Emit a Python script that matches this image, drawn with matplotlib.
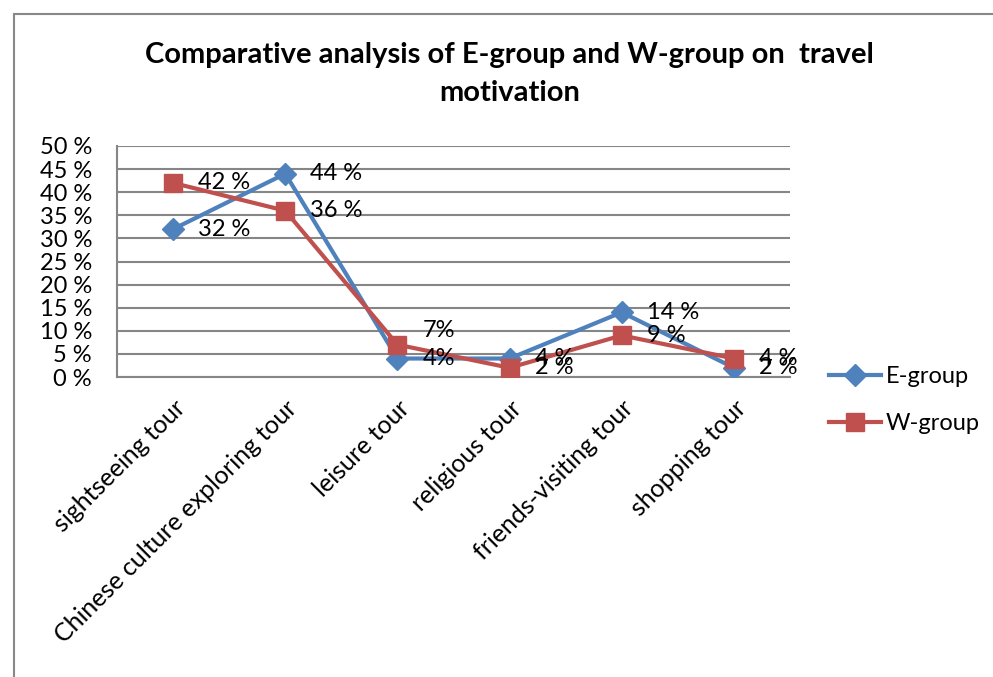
import matplotlib
matplotlib.use("Agg")
import matplotlib.pyplot as plt
from matplotlib.patches import Rectangle

plt.rcParams['font.family'] = ['Lato', 'DejaVu Sans']

categories = ["sightseeing tour", "Chinese culture exploring tour", "leisure tour",
              "religious tour", "friends-visiting tour", "shopping tour"]
e_group = [32, 44, 4, 4, 14, 2]
w_group = [42, 36, 7, 2, 9, 4]
e_labels = ["32 %", "44 %", "4%", "4 %", "14 %", "2 %"]
w_labels = ["42 %", "36 %", "7%", "2 %", "9 %", "4 %"]
yticks = [0, 5, 10, 15, 20, 25, 30, 35, 40, 45, 50]
ytick_labels = [f"{v} %" for v in yticks]
title = "Comparative analysis of E-group and W-group on  travel\nmotivation"

E_COLOR = "#4F81BD"
W_COLOR = "#C0504D"
GRID = "#868686"

fig = plt.figure(figsize=(9.93, 6.77), dpi=100)
# outer chart-area frame
fig.patches.append(Rectangle((14/993, -0.1), 1.2, 1 - 14/677 + 0.1, transform=fig.transFigure,
                             fill=False, edgecolor="#888888", linewidth=1.5))

ax = fig.add_axes([117/993, 1 - 377/677, (790 - 117)/993, (377 - 146)/677])
x = list(range(len(categories)))
ax.plot(x, e_group, color=E_COLOR, linewidth=3, marker="D", markersize=11.5,
        label="E-group", zorder=3)
ax.plot(x, w_group, color=W_COLOR, linewidth=3, marker="s", markersize=13,
        label="W-group", zorder=4)

for i in x:
    ax.annotate(e_labels[i], (i, e_group[i]), xytext=(18, 0), textcoords="offset points",
                ha="left", va="center", fontsize=17, zorder=5)
    dy = 10 if w_labels[i] == "7%" else 0
    ax.annotate(w_labels[i], (i, w_group[i]), xytext=(18, dy), textcoords="offset points",
                ha="left", va="center", fontsize=17, zorder=5)

ax.set_xlim(-0.5, len(categories) - 0.5)
ax.set_ylim(0, 50)
ax.set_yticks(yticks)
ax.set_yticklabels(ytick_labels, fontsize=17)
ax.set_xticks(x)
ax.set_xticklabels(categories, rotation=45, ha="right", rotation_mode="anchor", fontsize=18)
ax.tick_params(axis="x", length=0, pad=14)
ax.tick_params(axis="y", length=0, pad=18)
ax.yaxis.grid(True, color=GRID, linewidth=1.5)
ax.set_axisbelow(True)
for s in ["top", "right"]:
    ax.spines[s].set_visible(False)
for s in ["left", "bottom"]:
    ax.spines[s].set_color(GRID)
    ax.spines[s].set_linewidth(1.5)

fig.text(0.513, 1 - 42/677, title, ha="center", va="top", fontsize=21, fontweight="bold",
         linespacing=1.55)

leg = ax.legend(loc="center left", bbox_to_anchor=(808/993, 1 - 400/677),
                bbox_transform=fig.transFigure, frameon=False, fontsize=17,
                handlelength=2.2, labelspacing=1.1, handletextpad=0.2)

fig.savefig("out.png", dpi=100)
